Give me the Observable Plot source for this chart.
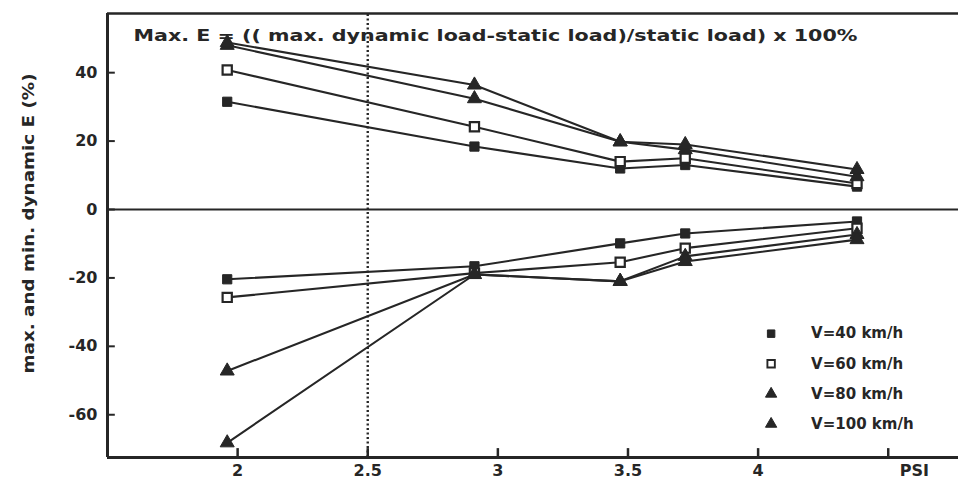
<!DOCTYPE html>
<html>
<head>
<meta charset="utf-8">
<script src="https://cdn.jsdelivr.net/npm/d3@7"></script>
<script src="https://cdn.jsdelivr.net/npm/@observablehq/plot@0.6"></script>
<style>
  html, body { margin: 0; padding: 0; background: #fff; }
  #chart { width: 960px; height: 481px; overflow: hidden; }
</style>
</head>
<body>
<div id="chart"></div>
<script>
// ---- data ----
const psi = [1.96, 2.91, 3.47, 3.72, 4.38];
const series = ["V=40 km/h", "V=60 km/h", "V=80 km/h", "V=100 km/h"];
const symbols = ["square", "square", "triangle", "triangle"];
const filled = [true, false, true, true];

const max40  = [31.5, 18.4, 12.0, 13.0, 6.7];
const max60  = [40.8, 24.2, 14.0, 15.0, 7.6];
const max80  = [48.0, 32.4, 19.8, 17.5, 9.6];
const max100 = [48.8, 36.4, 19.8, 19.0, 11.7];

const min40  = [-20.4, -16.6, -9.9, -7.0, -3.5];
const min60  = [-25.7, -18.6, -15.4, -11.3, -5.5];
const min80  = [-47.2, -19.0, -21.0, -13.7, -7.3];
const min100 = [-68.2, -19.0, -21.0, -15.2, -8.8];

const xTicks = [2, 2.5, 3, 3.5, 4, 4.5];
const xTickLabels = ["2", "2.5", "3", "3.5", "4", ""];
const yTicks = [40, 20, 0, -20, -40, -60];
const yTickLabels = ["40", "20", "0", "-20", "-40", "-60"];

const titleText = "Max. E = (( max. dynamic load-static load)/static load) x 100%";
const yLabel = "max. and min. dynamic E (%)";
const xLabel = "PSI";
const refLine = 2.5;

// ---- build tables ----
const maxSets = [max40, max60, max80, max100];
const minSets = [min40, min60, min80, min100];
const rows = [];
series.forEach((s, k) => {
  psi.forEach((p, i) => {
    rows.push({series: s, k, part: "max", x: p, y: maxSets[k][i]});
  });
  psi.forEach((p, i) => {
    rows.push({series: s, k, part: "min", x: p, y: minSets[k][i]});
  });
});

const xDomain = [1.5, 4.77];
const yDomain = [-72.5, 57.3];
const ink = "#262626";

// legend positions derived from the scale domain (inside frame, lower right)
const legend = series.map((s, k) => ({series: s, k, x: 4.05, y: -36.3 - k * 8.8}));

const font = "DejaVu Sans, Liberation Sans, sans-serif";

const chart = Plot.plot({
  width: 960,
  height: 481,
  marginLeft: 107,
  marginRight: 2,
  marginTop: 13,
  marginBottom: 24,
  style: {fontFamily: font, background: "#fff", color: ink},
  x: {domain: xDomain, axis: null},
  y: {domain: yDomain, axis: null},
  marks: [
    // dotted reference line
    Plot.ruleX([refLine], {stroke: ink, strokeWidth: 2.4, strokeDasharray: "2,2.5", y1: yDomain[0], y2: yDomain[1]}),
    // zero line
    Plot.ruleY([0], {stroke: ink, strokeWidth: 2, x1: xDomain[0], x2: xDomain[1]}),
    // series lines
    Plot.line(rows, {x: "x", y: "y", z: d => d.series + d.part, stroke: ink, strokeWidth: 2.1}),
    // markers
    Plot.dot(rows, {
      x: "x", y: "y",
      symbol: d => symbols[d.k],
      r: 5.2,
      fill: d => filled[d.k] ? ink : "#fff",
      stroke: ink,
      strokeWidth: d => filled[d.k] ? 1 : 2.2
    }),
    // legend
    Plot.dot(legend, {
      x: "x", y: "y",
      symbol: d => symbols[d.k],
      r: 4.2,
      fill: d => filled[d.k] ? ink : "#fff",
      stroke: ink,
      strokeWidth: d => filled[d.k] ? 1 : 1.9
    }),
    Plot.text(legend, {
      x: "x", y: "y", text: "series", dx: 40, textAnchor: "start",
      fontSize: 15, fontWeight: "bold", fill: ink
    }),
    // frame: left, top, bottom
    Plot.ruleX([xDomain[0]], {stroke: ink, strokeWidth: 3, y1: yDomain[0], y2: yDomain[1]}),
    Plot.ruleY([yDomain[1]], {stroke: ink, strokeWidth: 2.5, x1: xDomain[0], x2: xDomain[1]}),
    Plot.ruleY([yDomain[0]], {stroke: ink, strokeWidth: 3, x1: xDomain[0], x2: xDomain[1]}),
    // inward ticks
    Plot.ruleX(xTicks, {stroke: ink, strokeWidth: 2.5, y1: yDomain[0], y2: yDomain[0] + 2.6}),
    Plot.ruleY(yTicks, {stroke: ink, strokeWidth: 2, x1: xDomain[0], x2: xDomain[0] + 0.03}),
    // tick labels
    Plot.text(xTicks, {
      x: d => d, text: (d, i) => xTickLabels[i], frameAnchor: "bottom",
      lineAnchor: "top", dy: 7, fontSize: 16, fontWeight: "bold", fill: ink
    }),
    Plot.text(yTicks, {
      y: d => d, text: (d, i) => yTickLabels[i], frameAnchor: "left",
      textAnchor: "end", dx: -10, fontSize: 16, fontWeight: "bold", fill: ink
    }),
    // x label
    Plot.text([xLabel], {
      x: 4.6, text: d => d, frameAnchor: "bottom",
      lineAnchor: "top", dy: 7, fontSize: 16, fontWeight: "bold", fill: ink
    }),
    // y label (starts at bottom, reads upward)
    Plot.text([yLabel], {
      text: d => d, frameAnchor: "left", dx: -79, dy: 138, rotate: -90,
      textAnchor: "start", fontSize: 16, fontWeight: "bold", fill: ink
    }),
    // title inside frame
    Plot.text([titleText], {
      text: d => d, frameAnchor: "top-left", dx: 26, dy: 17, textAnchor: "start",
      fontSize: 15, fontWeight: "bold", fill: ink
    })
  ]
});

document.getElementById("chart").appendChild(chart);

// stretch title and y label to the reference widths
chart.querySelectorAll("text").forEach(t => {
  if (t.textContent === titleText) {
    t.setAttribute("textLength", 724);
    t.setAttribute("lengthAdjust", "spacingAndGlyphs");
  }
  if (t.textContent === yLabel) {
    t.setAttribute("textLength", 300);
    t.setAttribute("lengthAdjust", "spacingAndGlyphs");
  }
});
</script>
</body>
</html>
